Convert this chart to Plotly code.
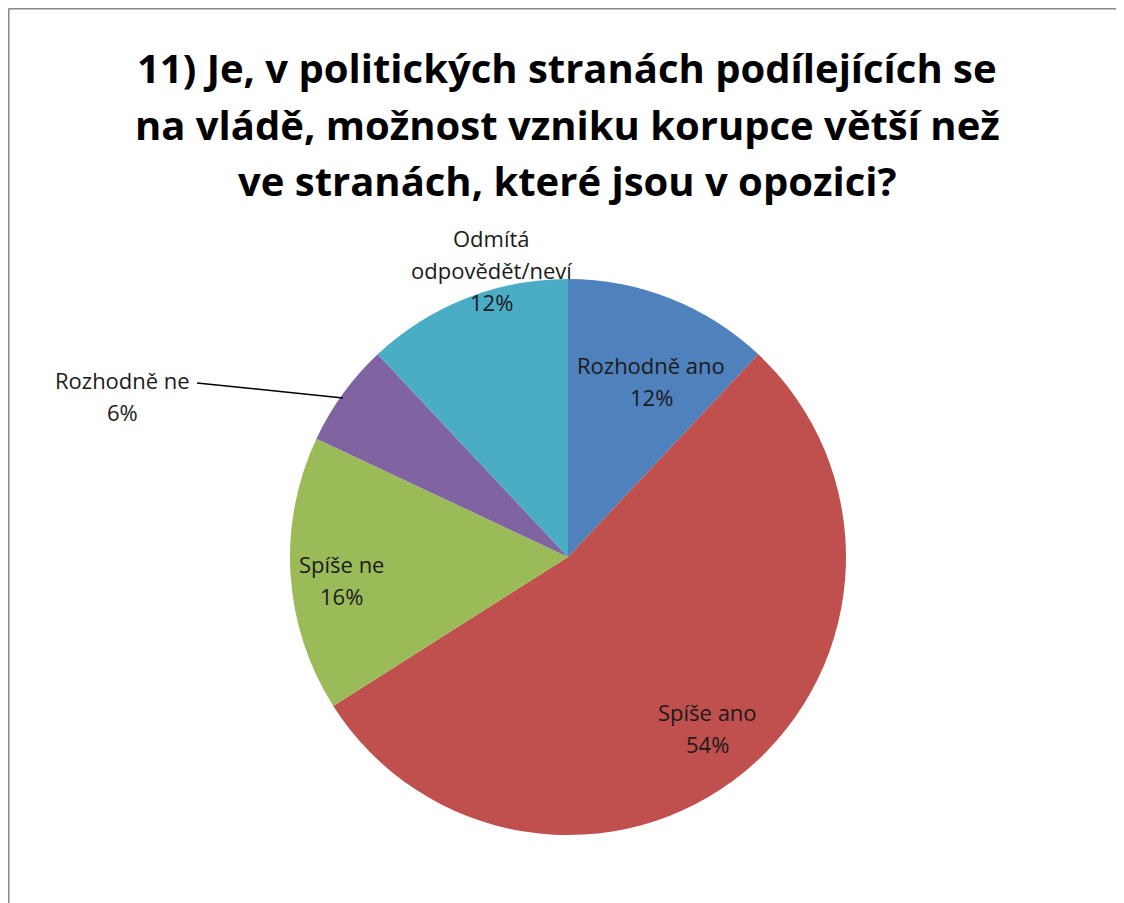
import plotly.graph_objects as go

labels = ["Rozhodně ano", "Spíše ano", "Spíše ne", "Rozhodně ne", "Odmítá odpovědět/neví"]
values = [12, 54, 16, 6, 12]
colors = ["#4F81BD", "#C0504D", "#9BBB59", "#8064A2", "#4BACC6"]
title_lines = [
    "11) Je, v politických stranách podílejících se",
    "na vládě, možnost vzniku korupce větší než",
    "ve stranách, které jsou v opozici?",
]
# label text lines per slice (category split for display)
label_lines = [
    ["Rozhodně ano"],
    ["Spíše ano"],
    ["Spíše ne"],
    ["Rozhodně ne"],
    ["Odmítá", "odpovědět/neví"],
]

W, H = 1124, 903
OFF = 8  # page body margin
FONT = "Open Sans"


def px(x):
    return (x - OFF) / W


def py(y):
    return 1 - (y - OFF) / H


fig = go.Figure()
cx, cy, r = 568, 557, 278
fig.add_trace(go.Pie(
    labels=labels, values=values, sort=False, direction="clockwise", rotation=0,
    marker=dict(colors=colors, line=dict(width=0)),
    textinfo="none", hoverinfo="label+percent", showlegend=False,
    domain=dict(x=[px(cx - r), px(cx + r)], y=[py(cy + r), py(cy - r)]),
))

# label anchor positions (pixel centers of first text line)
label_pos = [(651, 365), (707, 712), (341, 564), (122, 380), (491, 238)]
line_h = 32
for lines, v, (x, y) in zip(label_lines, values, label_pos):
    all_lines = lines + [f"{v}%"]
    for i, t in enumerate(all_lines):
        fig.add_annotation(
            x=px(x), y=py(y + i * line_h), xref="paper", yref="paper",
            text=t, showarrow=False, xanchor="center", yanchor="middle",
            font=dict(family=FONT, size=22, color="#1a1a1a"),
        )

title_y = [68, 125, 181]
for t, y in zip(title_lines, title_y):
    fig.add_annotation(
        x=px(567), y=py(y), xref="paper", yref="paper", text=f"<b>{t}</b>",
        showarrow=False, xanchor="center", yanchor="middle",
        font=dict(family=FONT, size=40, color="#000000"),
    )

shapes = [
    dict(type="line", xref="paper", yref="paper", x0=px(8.5), y0=py(8.5), x1=1, y1=py(8.5),
         line=dict(color="#888888", width=2)),
    dict(type="line", xref="paper", yref="paper", x0=px(8.5), y0=py(8.5), x1=px(8.5), y1=0,
         line=dict(color="#888888", width=2)),
    # leader line for Rozhodně ne
    dict(type="line", xref="paper", yref="paper", x0=px(197), y0=py(383), x1=px(343), y1=py(398),
         line=dict(color="#000000", width=1.5)),
]

fig.update_layout(
    width=W, height=H, margin=dict(l=0, r=0, t=0, b=0),
    paper_bgcolor="white", plot_bgcolor="white", shapes=shapes,
)
fig.write_html("out.html")
